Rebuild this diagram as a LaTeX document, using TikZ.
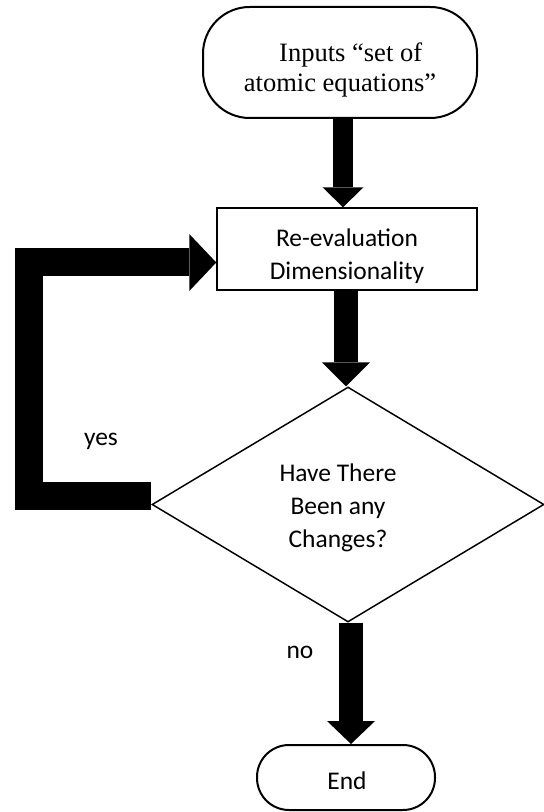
\documentclass[tikz,border=0pt]{standalone}
\usepackage{fontspec}
\setmainfont{Liberation Serif}
\newfontfamily\calibri{Carlito}
\usetikzlibrary{arrows.meta,shapes.geometric,calc}

\begin{document}
\begin{tikzpicture}[x=0.75pt,y=-0.75pt,
  terminal/.style={draw, line width=1.5pt, rounded corners=#1, inner sep=0pt},
  process/.style={draw, line width=1.1pt, inner sep=0pt},
  decision/.style={draw, shape=diamond, line width=1.1pt, inner sep=0pt},
  serifText/.style={font=\fontsize{19.9pt}{22.5pt}\selectfont, align=center, inner sep=0pt},
  sansText/.style={font=\calibri\fontsize{19.1pt}{24.75pt}\selectfont, align=center, inner sep=0pt},
  fat/.style n args={3}{line width=#1,
    -{Triangle[width=#2 0 0,length=#3 0 0,line width=0pt]}},
  loopback/.style={line width=21pt, line join=miter,
    -{Triangle[width=42.75pt 0 0,length=20.25pt 0 0,line width=0pt]}}]

\useasboundingbox (0,0) rectangle (543,812);

% shapes of the flow chart
\node[terminal=35pt, minimum width=205.5pt, minimum height=83.25pt] (in) at (340,62.5) {};
\node[process, minimum width=195pt, minimum height=61.5pt] (box) at (347,249) {};
\node[decision, minimum width=294pt, minimum height=176.25pt] (dia) at (348,504.5) {};
\node[terminal=24pt, minimum width=133.5pt, minimum height=48.75pt] (end) at (346,777.5) {};

% texts of the shapes
\node[serifText] (intext) at (340,70) {\hspace*{16pt}Inputs “set of\\atomic equations”};
\node[sansText] (boxtext) at (347,256) {Re-evaluation\\Dimensionality};
\node[sansText] (diatext) at (338,508) {Have There\\Been any\\Changes?};
\node[sansText] (endtext) at (347,781) {End};

% branch labels
\node[sansText] (yes) at (101,441) {yes};
\node[sansText] (no) at (300,652) {no};

% axes of the straight arrows
\coordinate (a1) at (343,0);
\coordinate (a2) at (346,0);
\coordinate (a3) at (351,0);

\draw[fat={15pt}{30.75pt}{15pt}] (in.south -| a1) -- (box.north -| a1);
\draw[fat={18pt}{36pt}{18pt}] (box.south -| a2) -- (dia.north -| a2);
\draw[fat={18pt}{36pt}{17.25pt}] (dia.south -| a3) -- (end.north -| a3);

% loop back from the decision to the process box
\coordinate (lb) at (28.5,495.5);
\coordinate (lt) at (28.5,262.5);
\draw[loopback] ($(dia.west)+(0,-9)$) -- (lb) -- (lt) -- (box.west |- lt);

\end{tikzpicture}
\end{document}
